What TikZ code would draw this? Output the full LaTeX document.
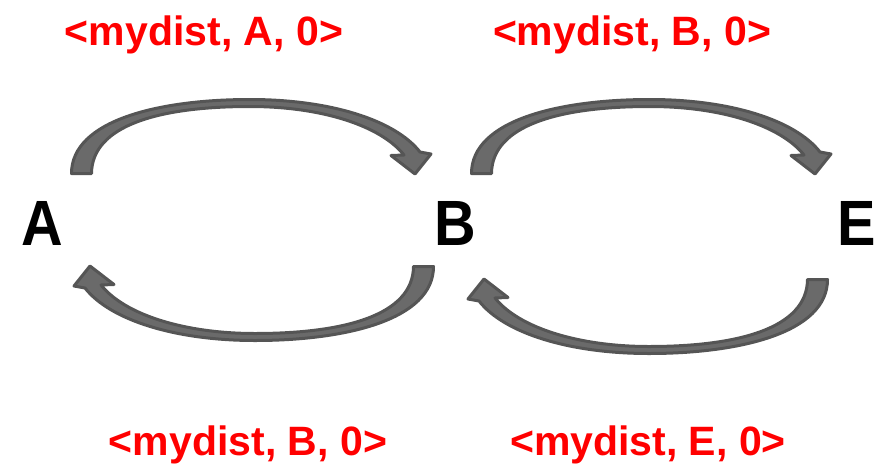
\documentclass[tikz,border=0pt]{standalone}
\usepackage{fontspec}
\setmainfont{Liberation Sans}
\newfontfamily\hostfont[FakeStretch=0.9]{Liberation Sans}
\definecolor{arrowline}{HTML}{555555}
\definecolor{arrowfill}{HTML}{6A6A6A}
\definecolor{labelred}{HTML}{FF0000}
\tikzset{
  blockarrow/.style={draw=arrowline, fill=arrowfill, line width=3pt, line join=round},
  msglabel/.style={text=labelred, font=\fontsize{41}{48}\selectfont\bfseries, anchor=base, inner sep=0pt},
  hostlabel/.style={text=black, font=\hostfont\fontsize{64}{72}\selectfont\bfseries, anchor=base, inner sep=0pt},
  pics/curvarrow/.style={code={
    \path[blockarrow]
      (-181,-46.5) .. controls (-181,-100) and (-92.5,-120.5) .. (-2.5,-120.5)
      .. controls (77.5,-120.5) and (142.5,-100) .. (167.5,-68)
      -- (178.5,-66) -- (162.5,-46) -- (138.5,-64.5) -- (151.5,-65)
      .. controls (127.5,-95) and (67.5,-113.5) .. (-2.5,-113.5)
      .. controls (-92.5,-113.5) and (-160.5,-95) .. (-161,-46.5)
      -- cycle;
  }}
}
\begin{document}
\begin{tikzpicture}[x=1pt, y=-1pt]
  \path[use as bounding box] (0,0) rectangle (880,466);

  % hosts
  \node[hostlabel] (A) at (42,245) {A};
  \node[hostlabel] (B) at (455,245) {B};
  \node[hostlabel] (E) at (857,245) {E};

  % curved block arrows between the hosts
  \pic at (252.5,220) {curvarrow};
  \pic[rotate=180] at (252.5,220) {curvarrow};
  \pic at (652.5,220) {curvarrow};
  \pic[rotate=180] at (646.5,233) {curvarrow};

  % distance-vector messages
  \node[msglabel] (mAB) at (204,45) {<mydist, A, 0>};
  \node[msglabel] (mBE) at (632,45) {<mydist, B, 0>};
  \node[msglabel] (mBA) at (248,455) {<mydist, B, 0>};
  \node[msglabel] (mEB) at (648,455) {<mydist, E, 0>};
\end{tikzpicture}
\end{document}
